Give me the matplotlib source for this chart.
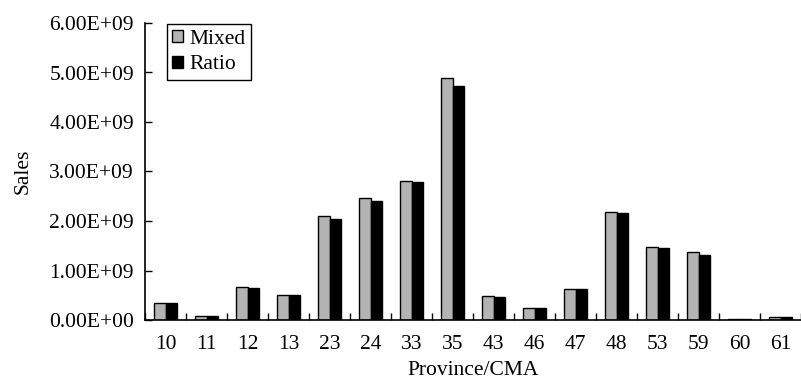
import numpy as np
import matplotlib
matplotlib.use("Agg")
import matplotlib.pyplot as plt

plt.rcParams['font.family'] = ['Liberation Serif', 'DejaVu Serif']

regions = ['10', '11', '12', '13', '23', '24', '33', '35', '43', '46', '47', '48', '53', '59', '60', '61']
mixed = [0.35, 0.09, 0.67, 0.50, 2.10, 2.46, 2.80, 4.88, 0.49, 0.245, 0.635, 2.19, 1.47, 1.38, 0.02, 0.06]
ratio = [0.35, 0.09, 0.65, 0.50, 2.05, 2.40, 2.78, 4.72, 0.47, 0.24, 0.63, 2.16, 1.45, 1.31, 0.02, 0.06]
mixed = np.array(mixed) * 1e9
ratio = np.array(ratio) * 1e9

fs = 15.5

fig = plt.figure(figsize=(8.01, 3.85), dpi=100)
ax = fig.add_axes([145 / 801, 65 / 385, 656 / 801, 297 / 385])

x = np.arange(len(regions))
w = 0.29
ax.bar(x - w / 2, mixed, w, color='#b3b3b3', edgecolor='black', linewidth=1.0, label='Mixed')
ax.bar(x + w / 2, ratio, w, color='black', edgecolor='black', linewidth=1.0, label='Ratio')

ax.set_xlim(-0.5, len(regions) - 0.5)
ax.set_ylim(0, 6e9)
ax.set_yticks(np.arange(0, 7) * 1e9)
ax.set_yticklabels(['%.2fE+%02d' % (v, 9 if v else 0) for v in range(7)])
ax.set_xticks(x)
ax.set_xticklabels(regions)
ax.set_xticks(np.arange(len(regions) + 1) - 0.5, minor=True)
ax.tick_params(axis='x', which='major', length=0, labelsize=fs, pad=11)
ax.tick_params(axis='x', which='minor', direction='in', length=5, width=1)
ax.tick_params(axis='y', direction='in', length=5, width=1, labelsize=fs, pad=8)

for s in ['top', 'right']:
    ax.spines[s].set_visible(False)
for s in ['left', 'bottom']:
    ax.spines[s].set_linewidth(1.2)

ax.set_xlabel('Province/CMA', fontsize=fs, labelpad=5)
ax.set_ylabel('Sales', fontsize=fs, labelpad=12)

leg = ax.legend(loc='upper left', bbox_to_anchor=(0.033, 0.995), fontsize=fs,
                fancybox=False, edgecolor='black', framealpha=1,
                handlelength=0.5, handleheight=0.5, handletextpad=0.3,
                borderpad=0.25, labelspacing=0.3, borderaxespad=0)
leg.get_frame().set_linewidth(1.0)

fig.savefig('out.png', dpi=100)
